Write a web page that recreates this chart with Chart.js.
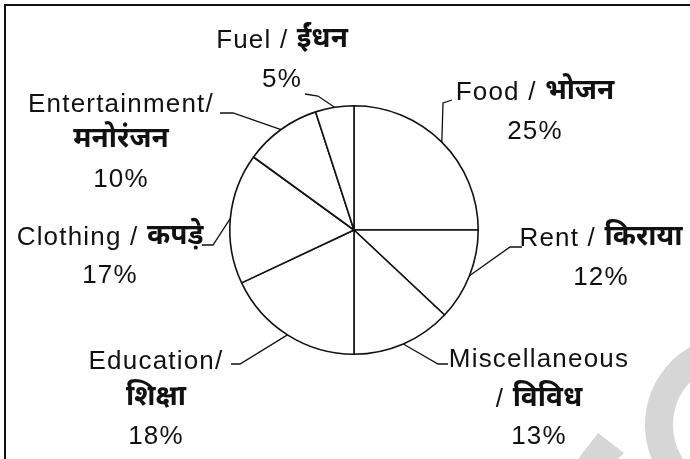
<!DOCTYPE html>
<html>
<head>
<meta charset="utf-8">
<script src="https://cdn.jsdelivr.net/npm/chart.js@4.4.0/dist/chart.umd.min.js"></script>
<style>
  html, body { margin: 0; padding: 0; background: #fff; }
  #wrap { width: 690px; height: 459px; }
</style>
</head>
<body>
<div id="wrap"><canvas id="pie" width="690" height="459"></canvas></div>
<script>
// Data
const categoriesEn = ["Food", "Rent", "Miscellaneous", "Education", "Clothing", "Entertainment", "Fuel"];
const categoriesHi = ["भोजन", "किराया", "विविध", "शिक्षा", "कपड़े", "मनोरंजन", "ईंधन"];
const shares = [25, 12, 13, 18, 17, 10, 5];

// Label layout, offsets from the pie centre (px)
// split: how the english / hindi name breaks into lines
const labelLayout = [
  { split: "inline", x: 181, ys: [-137, -98], elbow: [89, -127], end: [98, -130] },
  { split: "inline", x: 247, ys: [9, 48], elbow: [156, 17], end: [168, 17] },
  { split: "slashBefore", x: 185, ys: [130, 170, 207], elbow: [84, 134], end: [94, 134] },
  { split: "slashAfter", x: -198, ys: [132, 169, 207], elbow: [-114, 134], end: [-123, 134] },
  { split: "inline", x: -244, ys: [8, 46], elbow: [-141, 15], end: [-152, 15] },
  { split: "slashAfter", x: -233, ys: [-125, -89, -50], elbow: [-121, -117], end: [-134, -117] },
  { split: "inline", x: -72, ys: [-189, -150], elbow: [-36, -134], end: [-49, -136] },
];

const latinFont = '26px "Liberation Sans", Arial, sans-serif';
const hindiFont = 'bold 28px "Noto Sans Devanagari", "Lohit Devanagari", FreeSans, "Noto Sans", sans-serif';
const ink = "#111";

function labelLines(i) {
  const en = categoriesEn[i], hi = categoriesHi[i], pct = shares[i] + "%";
  const split = labelLayout[i].split;
  if (split === "inline") return [[[en + " / ", false], [hi, true]], [[pct, false]]];
  if (split === "slashBefore") return [[[en, false]], [["/ ", false], [hi, true]], [[pct, false]]];
  return [[[en + "/", false]], [[hi, true]], [[pct, false]]];
}

function drawLine(ctx, parts, cx, cy) {
  const widths = parts.map(([t, bold]) => {
    ctx.font = bold ? hindiFont : latinFont;
    ctx.letterSpacing = bold ? "0px" : "1.2px";
    return ctx.measureText(t).width;
  });
  let x = cx - widths.reduce((a, b) => a + b, 0) / 2;
  parts.forEach(([t, bold], k) => {
    ctx.font = bold ? hindiFont : latinFont;
    ctx.letterSpacing = bold ? "0px" : "1.2px";
    ctx.fillText(t, x, cy + (bold ? 1 : 0));
    x += widths[k];
  });
}

const backdrop = {
  id: "backdrop",
  beforeDraw(chart) {
    const ctx = chart.ctx;
    ctx.save();
    // watermark
    ctx.strokeStyle = "#d6d6d6";
    ctx.lineWidth = 28;
    ctx.beginPath();
    ctx.arc(735, 425, 76, 0, Math.PI * 2);
    ctx.stroke();
    ctx.fillStyle = "#d6d6d6";
    ctx.beginPath();
    ctx.moveTo(578, 459);
    ctx.lineTo(598, 433);
    ctx.lineTo(624, 453);
    ctx.lineTo(618, 459);
    ctx.closePath();
    ctx.fill();
    // frame (top and left only)
    ctx.strokeStyle = ink;
    ctx.lineWidth = 2;
    ctx.beginPath();
    ctx.moveTo(5, 459);
    ctx.lineTo(5, 5);
    ctx.lineTo(690, 5);
    ctx.stroke();
    ctx.restore();
  },
};

const outsideLabels = {
  id: "outsideLabels",
  afterDraw(chart) {
    const ctx = chart.ctx;
    const arcs = chart.getDatasetMeta(0).data;
    ctx.save();
    ctx.fillStyle = ink;
    ctx.strokeStyle = ink;
    ctx.lineWidth = 1.3;
    ctx.textBaseline = "middle";
    ctx.textAlign = "left";
    arcs.forEach((arc, i) => {
      const { x, y, startAngle, endAngle, outerRadius } = arc.getProps(
        ["x", "y", "startAngle", "endAngle", "outerRadius"], true);
      const mid = (startAngle + endAngle) / 2;
      const L = labelLayout[i];
      ctx.beginPath();
      ctx.moveTo(x + Math.cos(mid) * outerRadius, y + Math.sin(mid) * outerRadius);
      ctx.lineTo(x + L.elbow[0], y + L.elbow[1]);
      ctx.lineTo(x + L.end[0], y + L.end[1]);
      ctx.stroke();
      labelLines(i).forEach((parts, k) => drawLine(ctx, parts, x + L.x, y + L.ys[k]));
    });
    ctx.restore();
  },
};

new Chart(document.getElementById("pie"), {
  type: "pie",
  data: {
    labels: categoriesEn,
    datasets: [{
      data: shares,
      backgroundColor: "#ffffff",
      borderColor: ink,
      borderWidth: 1.6,
    }],
  },
  options: {
    responsive: false,
    animation: false,
    devicePixelRatio: 1,
    layout: { padding: { left: 229, right: 211, top: 105, bottom: 104 } },
    plugins: {
      legend: { display: false },
      tooltip: { enabled: false },
    },
  },
  plugins: [backdrop, outsideLabels],
});
</script>
</body>
</html>
